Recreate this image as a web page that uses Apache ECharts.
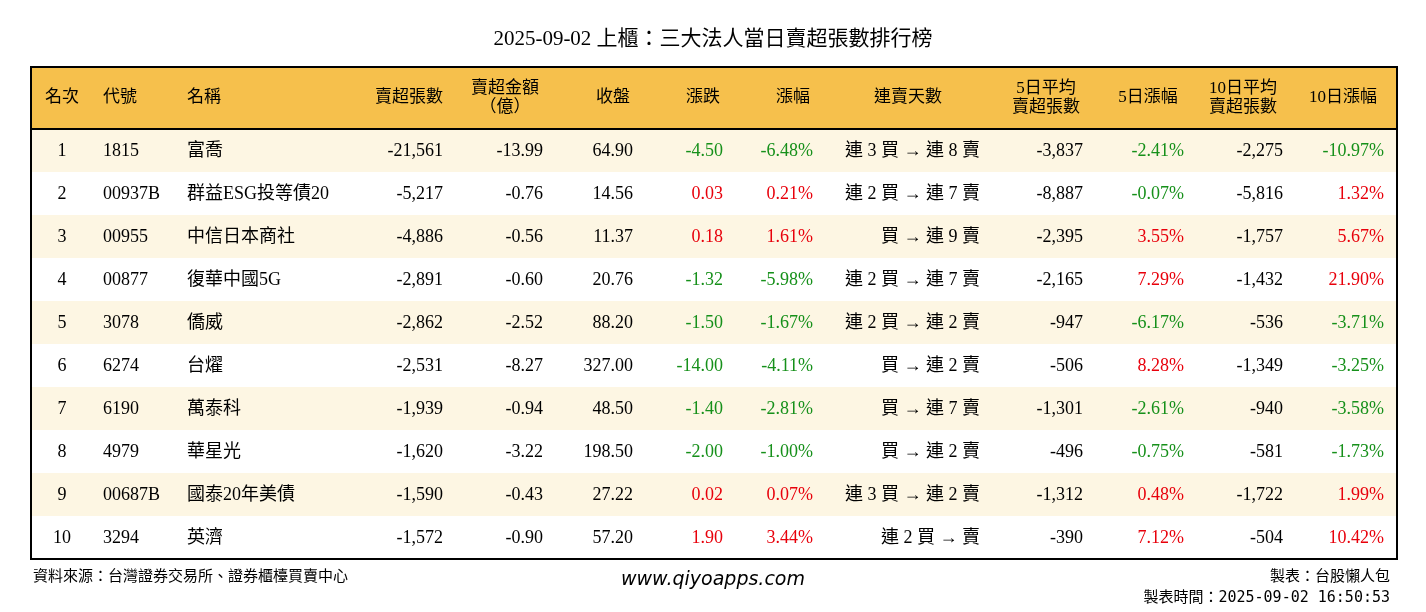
<!DOCTYPE html>
<html>
<head>
<meta charset="utf-8">
<script src="https://cdn.jsdelivr.net/npm/echarts@6/dist/echarts.min.js"></script>
<style>html,body{margin:0;padding:0;background:#fff}#main{width:1426px;height:612px}</style>
</head>
<body>
<div id="main"></div>
<script>
var chart = echarts.init(document.getElementById('main'));

// 資料
var ranks = ['1','2','3','4','5','6','7','8','9','10'];
var codes = ['1815','00937B','00955','00877','3078','6274','6190','4979','00687B','3294'];
var names = ['富喬','群益ESG投等債20','中信日本商社','復華中國5G','僑威','台燿','萬泰科','華星光','國泰20年美債','英濟'];
var netSell = ['-21,561','-5,217','-4,886','-2,891','-2,862','-2,531','-1,939','-1,620','-1,590','-1,572'];
var amount = ['-13.99','-0.76','-0.56','-0.60','-2.52','-8.27','-0.94','-3.22','-0.43','-0.90'];
var closePx = ['64.90','14.56','11.37','20.76','88.20','327.00','48.50','198.50','27.22','57.20'];
var change = [-4.50,0.03,0.18,-1.32,-1.50,-14.00,-1.40,-2.00,0.02,1.90];
var changePct = [-6.48,0.21,1.61,-5.98,-1.67,-4.11,-2.81,-1.00,0.07,3.44];
var streak = ['連 3 買 → 連 8 賣','連 2 買 → 連 7 賣','買 → 連 9 賣','連 2 買 → 連 7 賣','連 2 買 → 連 2 賣','買 → 連 2 賣','買 → 連 7 賣','買 → 連 2 賣','連 3 買 → 連 2 賣','連 2 買 → 賣'];
var avg5 = ['-3,837','-8,887','-2,395','-2,165','-947','-506','-1,301','-496','-1,312','-390'];
var pct5 = [-2.41,-0.07,3.55,7.29,-6.17,8.28,-2.61,-0.75,0.48,7.12];
var avg10 = ['-2,275','-5,816','-1,757','-1,432','-536','-1,349','-940','-581','-1,722','-504'];
var pct10 = [-10.97,1.32,5.67,21.90,-3.71,-3.25,-3.58,-1.73,1.99,10.42];

var headers = ['名次','代號','名稱','賣超張數','賣超金額\n（億）','收盤','漲跌','漲幅','連賣天數','5日平均\n賣超張數','5日漲幅','10日平均\n賣超張數','10日漲幅'];
var headX = [62,103,187,443,505,613,703,793,908,1046,1148,1243,1343];
var headAlign = ['center','left','left','right','center','center','center','center','center','center','center','center','center'];
var cellX = [62,103,187,443,543,633,723,813,980,1083,1184,1283,1384];
var cellAlign = ['center','left','left','right','right','right','right','right','right','right','right','right','right'];

var FONT = '"Liberation Serif","Noto Sans CJK TC",serif';
var RED = '#e8000b', GREEN = '#16901a';
function col(v){ return v > 0 ? RED : (v < 0 ? GREEN : '#000'); }
function fix(v){ return v.toFixed(2); }

var L = 31, R = 1397, HT = 67, HB = 129, RH = 43;
var g = [];
g.push({type:'text', left:'center', top:29, style:{text:'2025-09-02 上櫃：三大法人當日賣超張數排行榜', font:'21px ' + FONT, fill:'#000'}});
g.push({type:'rect', shape:{x:L, y:HT, width:R-L, height:HB-HT}, style:{fill:'#f6c04c'}});
for (var i = 0; i < ranks.length; i++) {
    var y0 = HB + RH * i;
    g.push({type:'rect', shape:{x:L, y:y0, width:R-L, height:RH}, style:{fill: i % 2 === 0 ? '#fdf6e3' : '#ffffff'}});
}
g.push({type:'rect', shape:{x:L, y:HT, width:R-L, height:HB+RH*10-HT}, style:{fill:'none', stroke:'#000', lineWidth:2}});
g.push({type:'line', shape:{x1:L, y1:HB, x2:R, y2:HB}, style:{stroke:'#000', lineWidth:2}});

headers.forEach(function(h, j){
    g.push({type:'text', x:headX[j], y:(HT+HB)/2, style:{text:h, font:'17px ' + FONT, fill:'#000', align:headAlign[j], verticalAlign:'middle', lineHeight:19}});
});

for (var i = 0; i < ranks.length; i++) {
    var yc = HB + RH * i + RH / 2 + 1;
    var cells = [
        [ranks[i], '#000'], [codes[i], '#000'], [names[i], '#000'], [netSell[i], '#000'], [amount[i], '#000'], [closePx[i], '#000'],
        [fix(change[i]), col(change[i])], [fix(changePct[i]) + '%', col(changePct[i])], [streak[i], '#000'],
        [avg5[i], '#000'], [fix(pct5[i]) + '%', col(pct5[i])], [avg10[i], '#000'], [fix(pct10[i]) + '%', col(pct10[i])]
    ];
    cells.forEach(function(c, j){
        g.push({type:'text', x:cellX[j], y:yc, style:{text:c[0], font:'18px ' + FONT, fill:c[1], align:cellAlign[j], verticalAlign:'middle'}});
    });
}

g.push({type:'text', x:33, y:577, style:{text:'資料來源：台灣證券交易所、證券櫃檯買賣中心', font:'15px ' + FONT, fill:'#000', verticalAlign:'middle'}});
g.push({type:'text', x:713, y:580, style:{text:'www.qiyoapps.com', font:'italic 19px "DejaVu Sans",sans-serif', fill:'#000', align:'center', verticalAlign:'middle'}});
g.push({type:'text', x:1390, y:577, style:{text:'製表：台股懶人包', font:'15px ' + FONT, fill:'#000', align:'right', verticalAlign:'middle'}});
g.push({type:'text', x:1390, y:598, style:{text:'製表時間：2025-09-02 16:50:53', font:'15px "DejaVu Sans Mono","Noto Sans CJK TC",monospace', fill:'#000', align:'right', verticalAlign:'middle'}});

chart.setOption({backgroundColor:'#fff', animation:false, graphic:g});
</script>
</body>
</html>
